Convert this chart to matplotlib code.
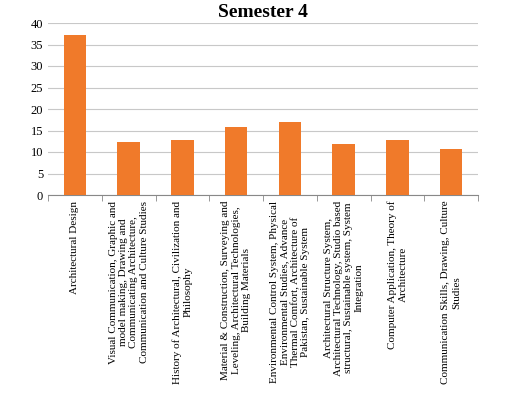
import matplotlib.pyplot as plt
import numpy as np

plt.rcParams['font.family'] = ['Liberation Serif', 'DejaVu Serif']

categories = [
	"Architectural Design",
	"Visual Communication, Graphic and\nmodel making, Drawing and\nCommunicating Architecture,\nCommunication and Culture Studies",
	"History of Architectural, Civilization and\nPhilosophy",
	"Material & Construction, Surveying and\nLeveling, Architectural Technologies,\nBuilding Materials",
	"Environmental Control System, Physical\nEnvironmental Studies, Advance\nThermal Comfort, Architecture of\nPakistan, Sustainable System",
	"Architectural Structure System,\nArchitectural Technology, Studio based\nstructural, Sustainable system, System\nIntegration",
	"Computer Application, Theory of\nArchitecture",
	"Communication Skills, Drawing, Culture\nStudies",
]
values = [37.1, 12.4, 12.8, 15.7, 17.0, 11.8, 12.7, 10.6]

fig = plt.figure(figsize=(5.07, 4.07), dpi=100)
ax = fig.add_axes([48/507, 1 - 195/407, 430/507, 172/407])
x = np.arange(len(values))
ax.bar(x, values, width=0.42, color='#f07a2a', zorder=3)
ax.set_xlim(-0.5, len(values) - 0.5)
ax.set_ylim(0, 40)
ax.set_yticks(range(0, 41, 5))
ax.yaxis.grid(True, color='#c8c8c8', linewidth=0.8, zorder=0)
ax.set_xticks(x)
ax.set_xticklabels(categories, rotation=90, fontsize=8, ha='center', va='top', multialignment='center')
ax.set_xticks(np.arange(-0.5, len(values)), minor=True)
ax.tick_params(axis='x', which='major', length=0, pad=4)
ax.tick_params(axis='x', which='minor', length=4, color='#888888')
ax.tick_params(axis='y', length=0, labelsize=9)
for s in ['top', 'right', 'left']:
	ax.spines[s].set_visible(False)
ax.spines['bottom'].set_color('#888888')
ax.set_title('Semester 4', fontsize=14, fontweight='bold', pad=4)
fig.savefig('out.png', dpi=100)
